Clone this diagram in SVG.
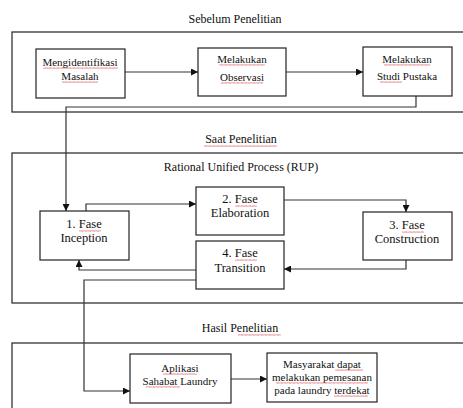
<svg xmlns="http://www.w3.org/2000/svg" width="463" height="408" viewBox="0 0 463 408">
<style>
.frame{fill:none;stroke:#222;stroke-width:1.2}
.box{fill:#fff;stroke:#222;stroke-width:1.2}
.t{font-family:"Liberation Serif","Times New Roman",serif;fill:#111;text-anchor:middle}
.s11{font-size:11px}
.s12{font-size:12px}
.s125{font-size:12.5px}
.c{fill:none;stroke:#333;stroke-width:1.2}
.wv{fill:url(#wave)}
</style>
<defs>
<marker id="ah" viewBox="0 0 8 8" refX="8" refY="4" markerWidth="7" markerHeight="7" markerUnits="userSpaceOnUse" orient="auto">
<path d="M0,0 L8,4 L0,8 Z" fill="#111"/>
</marker>
<pattern id="wave" width="4" height="2" patternUnits="userSpaceOnUse">
<path d="M0,1.5 L1,0.5 L2,1.5 L3,0.5 L4,1.5" fill="none" stroke="#d33" stroke-width="0.7"/>
</pattern>
</defs>
<rect width="463" height="408" fill="#fff"/>

<g id="section-sebelum">
<text class="t s12" x="235" y="23">Sebelum Penelitian</text>
<rect class="frame" x="12" y="32" width="460" height="80"/>
</g>
<g id="section-saat">
<text class="t s12" x="241" y="143">Saat Penelitian</text>
<rect class="wv" x="204" y="145" width="73" height="2"/>
<rect class="frame" x="12" y="153" width="460" height="150"/>
<text class="t s12" x="241" y="171">Rational Unified Process (RUP)</text>
</g>
<g id="section-hasil">
<text class="t s12" x="240" y="332">Hasil Penelitian</text>
<rect class="wv" x="238" y="334" width="43" height="2"/>
<rect class="frame" x="12" y="343" width="460" height="80"/>
</g>

<g id="connectors">
<path class="c" d="M125,72 L198,72" marker-end="url(#ah)"/>
<path class="c" d="M286,72 L363,72" marker-end="url(#ah)"/>
<path class="c" d="M416,96 L416,107 L66,107 L66,211" marker-end="url(#ah)"/>
<path class="c" d="M86,211 L86,204 L196,204" marker-end="url(#ah)"/>
<path class="c" d="M284,200 L406,200 L406,212" marker-end="url(#ah)"/>
<path class="c" d="M406,260 L406,269 L284,269" marker-end="url(#ah)"/>
<path class="c" d="M196,270 L79,270 L79,260" marker-end="url(#ah)"/>
<path class="c" d="M196,280 L84,280 L84,391 L130,391" marker-end="url(#ah)"/>
<path class="c" d="M231,379 L267,379" marker-end="url(#ah)"/>
</g>

<g id="n-mengidentifikasi">
<rect class="box" x="36" y="49" width="89" height="49"/>
<text class="t s11" x="80" y="66">Mengidentifikasi</text>
<text class="t s11" x="80" y="80">Masalah</text>
<rect class="wv" x="43" y="67" width="75" height="2"/>
<rect class="wv" x="62" y="81" width="36" height="2"/>
</g>
<g id="n-observasi">
<rect class="box" x="198" y="48" width="88" height="48"/>
<text class="t s11" x="242" y="63">Melakukan</text>
<text class="t s11" x="242" y="81">Observasi</text>
<rect class="wv" x="219" y="64" width="46" height="2"/>
<rect class="wv" x="221" y="82" width="42" height="2"/>
</g>
<g id="n-studi">
<rect class="box" x="363" y="47" width="89" height="49"/>
<text class="t s11" x="407" y="63">Melakukan</text>
<text class="t s11" x="407" y="80">Studi Pustaka</text>
<rect class="wv" x="384" y="64" width="46" height="2"/>
<rect class="wv" x="380" y="81" width="22" height="2"/>
</g>

<g id="n-inception">
<rect class="box" x="40" y="211" width="89" height="49"/>
<text class="t s125" x="84" y="228">1. Fase</text>
<text class="t s125" x="84" y="242">Inception</text>
<rect class="wv" x="79" y="230" width="22" height="2"/>
</g>
<g id="n-elaboration">
<rect class="box" x="196" y="187" width="88" height="48"/>
<text class="t s125" x="240" y="203">2. Fase</text>
<text class="t s125" x="240" y="217">Elaboration</text>
<rect class="wv" x="235" y="205" width="22" height="2"/>
</g>
<g id="n-construction">
<rect class="box" x="363" y="212" width="89" height="48"/>
<text class="t s125" x="407" y="229">3. Fase</text>
<text class="t s125" x="407" y="243">Construction</text>
<rect class="wv" x="402" y="231" width="22" height="2"/>
</g>
<g id="n-transition">
<rect class="box" x="196" y="241" width="88" height="48"/>
<text class="t s125" x="240" y="257">4. Fase</text>
<text class="t s125" x="240" y="272">Transition</text>
<rect class="wv" x="235" y="259" width="22" height="2"/>
</g>

<g id="n-aplikasi">
<rect class="box" x="130" y="354" width="101" height="49"/>
<text class="t s11" x="180" y="372">Aplikasi</text>
<text class="t s11" x="180" y="385">Sahabat Laundry</text>
<rect class="wv" x="163" y="373" width="34" height="2"/>
<rect class="wv" x="146" y="386" width="34" height="2"/>
</g>
<g id="n-masyarakat">
<rect class="box" x="267" y="353" width="110" height="49"/>
<text class="t s11" x="322" y="368">Masyarakat dapat</text>
<text class="t s11" x="322" y="381">melakukan pemesanan</text>
<text class="t s11" x="322" y="394">pada laundry terdekat</text>
<rect class="wv" x="335" y="369" width="28" height="2"/>
<rect class="wv" x="276" y="382" width="92" height="2"/>
<rect class="wv" x="334" y="395" width="34" height="2"/>
</g>
</svg>
